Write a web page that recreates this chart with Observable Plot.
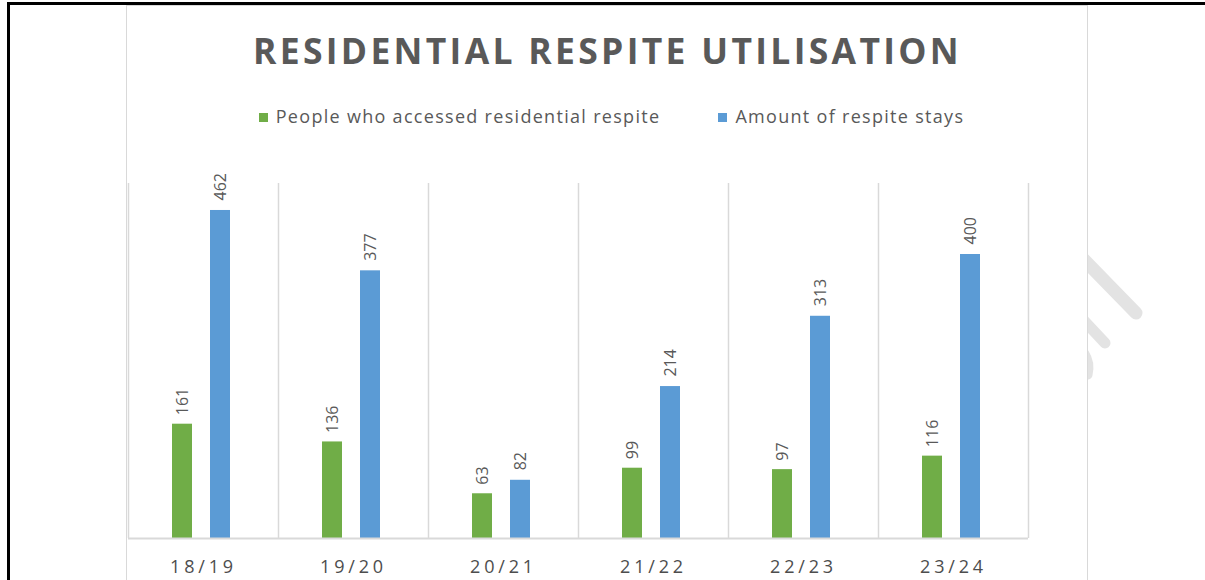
<!DOCTYPE html>
<html>
<head>
<meta charset="utf-8">
<script src="https://cdn.jsdelivr.net/npm/d3@7"></script>
<script src="https://cdn.jsdelivr.net/npm/@observablehq/plot@0.6"></script>
<style>
  html, body { margin: 0; padding: 0; background: #fff; }
  #page { position: relative; width: 1205px; height: 580px; overflow: hidden; background: #fff; font-family: "Open Sans", sans-serif; }
  #bTop { position: absolute; left: 7px; top: 2px; width: 1198px; height: 3px; background: #000; }
  #bLeft { position: absolute; left: 7px; top: 2px; width: 3px; height: 578px; background: #000; }
  #wm { position: absolute; left: 0; top: 0; }
  #box { position: absolute; left: 126px; top: 5px; width: 960px; height: 600px; border: 1.5px solid #d9d9d9; background: #fff; }
  #title { position: absolute; left: 126px; width: 963px; top: 26px; text-align: center; font-size: 35.5px; font-weight: 700; letter-spacing: 3.3px; color: #595959; }
  #legend { position: absolute; left: 130px; width: 963px; top: 104px; display: flex; justify-content: center; gap: 0; font-size: 18px; letter-spacing: 1.3px; color: #595959; }
  .li { display: flex; align-items: center; }
  .sw { width: 9px; height: 9px; margin-right: 8px; margin-top: 3px; }
  #chart { position: absolute; left: 98px; top: 150px; }
</style>
</head>
<body>
<div id="page">
  <svg id="wm" width="1205" height="580">
    <g stroke="#e3e3e3" stroke-linecap="round" fill="none">
      <line x1="1060" y1="235" x2="1136" y2="313" stroke-width="13"/>
      <line x1="1060" y1="295" x2="1105" y2="343" stroke-width="11"/>
      <path d="M1060 335 Q1094 350 1088 375" stroke-width="9"/>
    </g>
  </svg>
  <div id="box"></div>
  <div id="bTop"></div>
  <div id="bLeft"></div>
  <div id="title">RESIDENTIAL RESPITE UTILISATION</div>
  <div id="legend"></div>
  <div id="chart"></div>
</div>
<script>
const years = ["18/19", "19/20", "20/21", "21/22", "22/23", "23/24"];
const peopleAccessed = [161, 136, 63, 99, 97, 116];
const respiteStays = [462, 377, 82, 214, 313, 400];
const seriesNames = ["People who accessed residential respite", "Amount of respite stays"];
const seriesColors = ["#70AD47", "#5B9BD5"];

// legend
const legend = document.getElementById("legend");
seriesNames.forEach((n, i) => {
  const d = document.createElement("div");
  d.className = "li";
  d.style.marginRight = i === 0 ? "58px" : "0";
  d.innerHTML = `<span class="sw" style="background:${seriesColors[i]}"></span><span>${n}</span>`;
  legend.appendChild(d);
});

const green = years.map((y, i) => ({year: y, value: peopleAccessed[i]}));
const blue = years.map((y, i) => ({year: y, value: respiteStays[i]}));
const lastYear = [years[years.length - 1]];

const labelStyle = {fontSize: 16, fill: "#595959", rotate: -90, textAnchor: "start", fontFamily: "Open Sans"};

const chart = Plot.plot({
  width: 960,
  height: 430,
  marginLeft: 30,
  marginRight: 30,
  marginTop: 33,
  marginBottom: 42,
  style: {background: "transparent", fontFamily: "Open Sans", overflow: "visible"},
  x: {domain: years, padding: 0, label: null},
  y: {domain: [0, 500], axis: null},
  marks: [
    Plot.ruleX(years, {x: d => d, dx: -75, stroke: "#d9d9d9", strokeWidth: 1.5}),
    Plot.ruleX(lastYear, {x: d => d, dx: 75, stroke: "#d9d9d9", strokeWidth: 1.5}),
    Plot.barY(green, {x: "year", y: "value", fill: seriesColors[0], insetLeft: 44, insetRight: 86}),
    Plot.barY(blue, {x: "year", y: "value", fill: seriesColors[1], insetLeft: 82, insetRight: 48}),
    Plot.text(green, {x: "year", y: "value", text: d => String(d.value), dx: -21, dy: -9, ...labelStyle}),
    Plot.text(blue, {x: "year", y: "value", text: d => String(d.value), dx: 17, dy: -10, ...labelStyle}),
    Plot.ruleY([0], {stroke: "#d9d9d9", strokeWidth: 2}),
    Plot.axisX({tickSize: 0, tickPadding: 22, fontSize: 18, fontWeight: 400, fill: "#4d4d4d", label: null})
  ]
});
document.getElementById("chart").appendChild(chart);
chart.querySelectorAll('g[aria-label="x-axis tick label"] text').forEach(t => {
  t.style.letterSpacing = "3.8px";
});
</script>
</body>
</html>
